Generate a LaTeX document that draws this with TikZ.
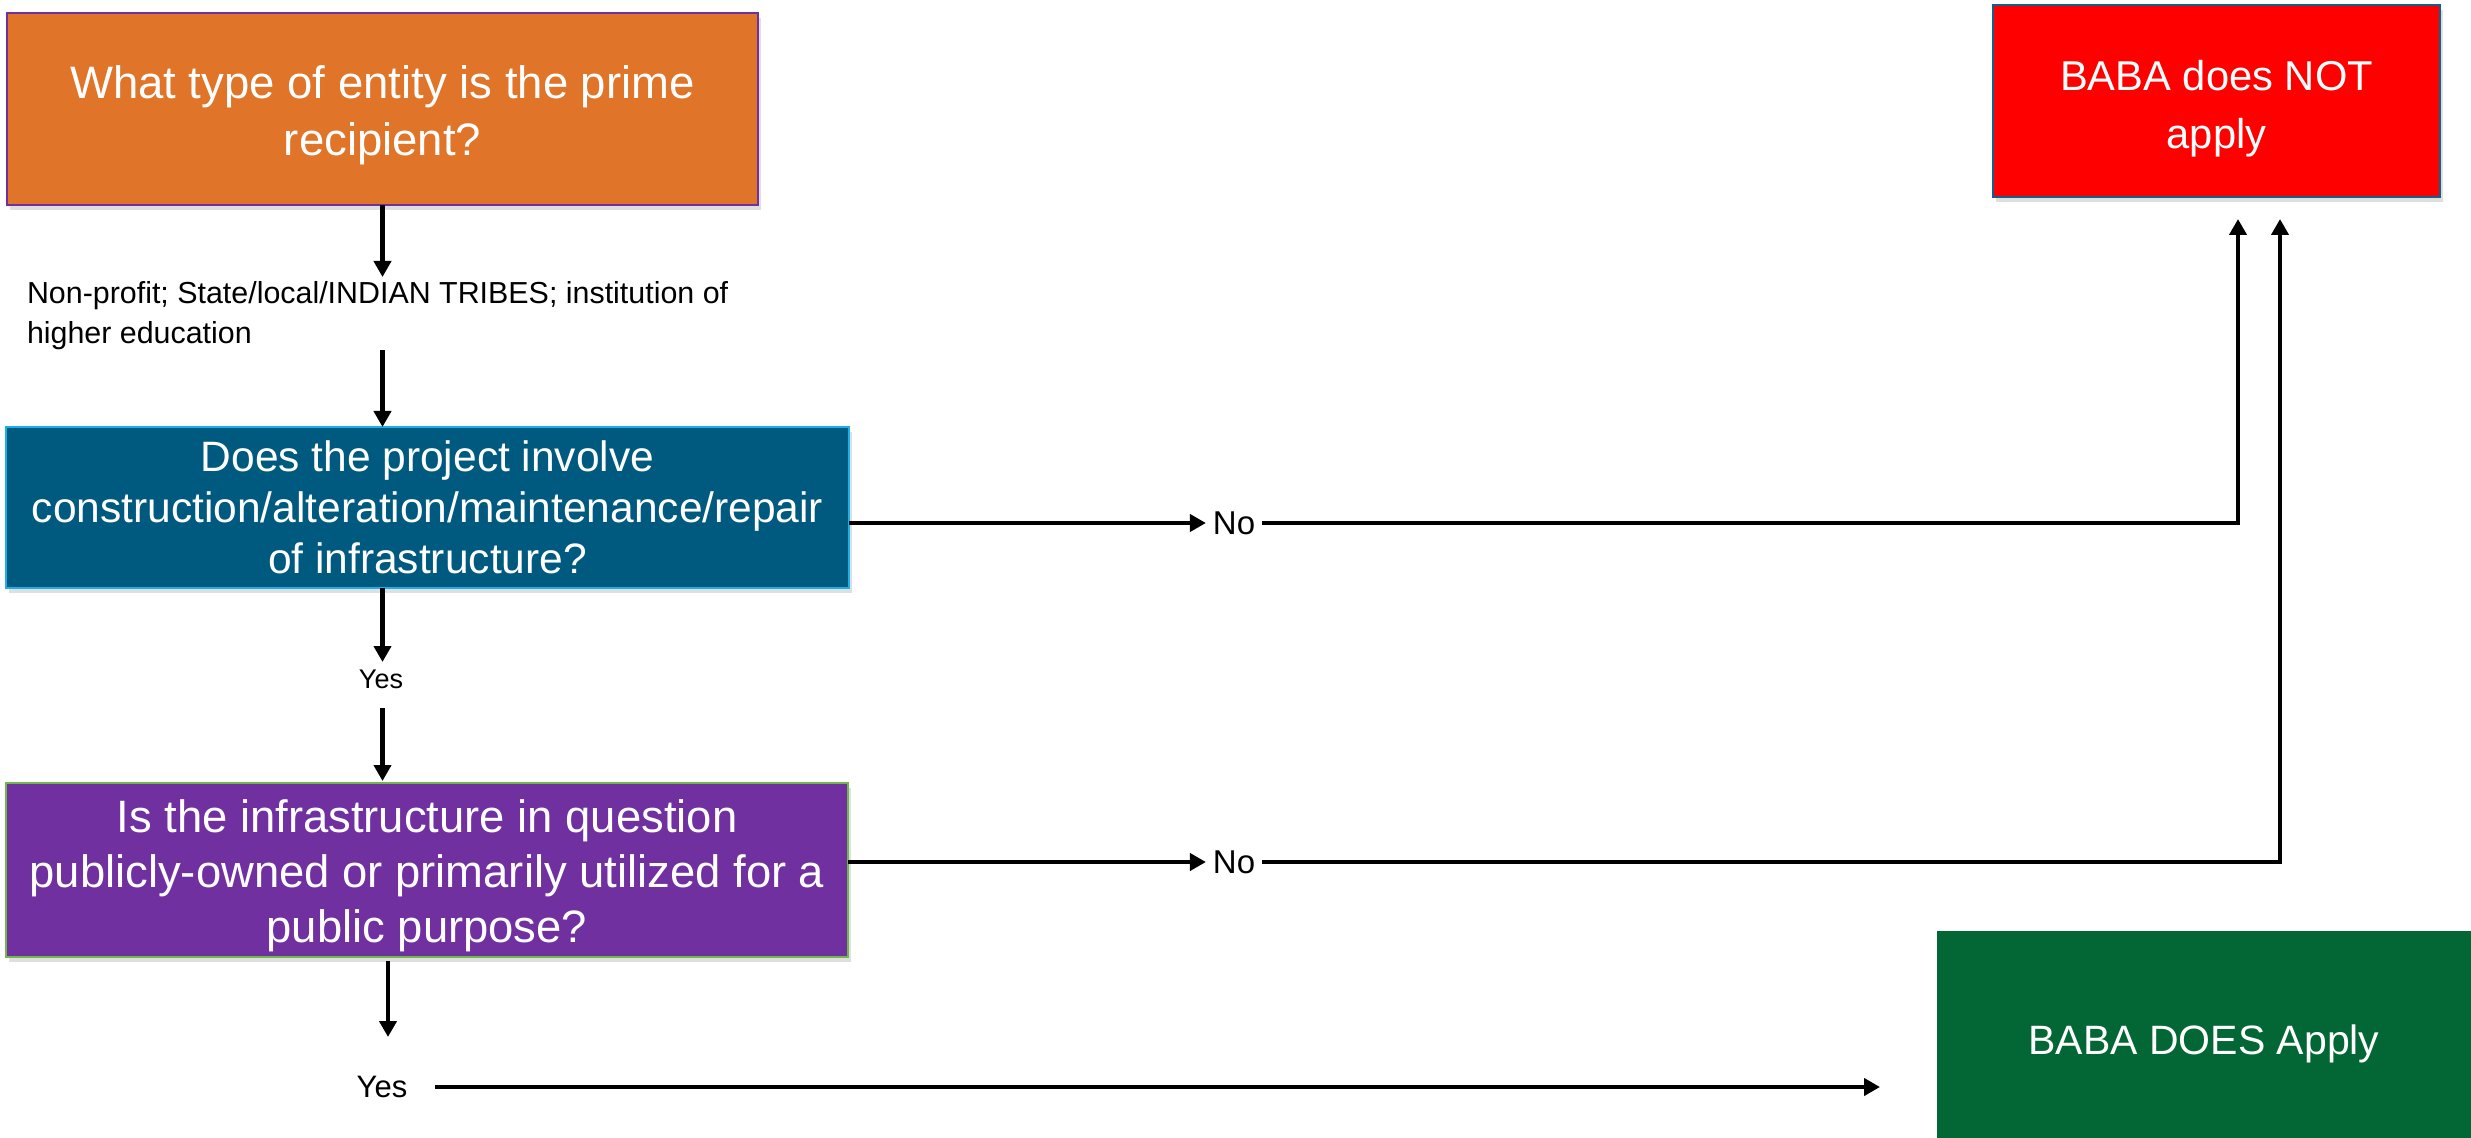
\documentclass[tikz,border=0pt]{standalone}
\usepackage{fontspec}
\setmainfont{Liberation Sans}
\usetikzlibrary{arrows.meta,calc,shadows}
\definecolor{cOrange}{HTML}{E07428}
\definecolor{cOrangeB}{HTML}{7030A0}
\definecolor{cBlue}{HTML}{005A80}
\definecolor{cBlueB}{HTML}{1CB0E8}
\definecolor{cPurple}{HTML}{7030A0}
\definecolor{cPurpleB}{HTML}{70B84A}
\definecolor{cRed}{HTML}{FF0000}
\definecolor{cRedB}{HTML}{12608C}
\definecolor{cGreen}{HTML}{036635}
\begin{document}
\begin{tikzpicture}[x=0.5pt,y=-0.5pt,
  box/.style={rectangle, draw, line width=0.75pt, outer sep=0pt,
    drop shadow={shadow xshift=1.5pt,shadow yshift=-2.5pt,opacity=0.25}},
  boxtext/.style={text=white, align=center, inner sep=0pt},
  arr/.style={line width=2.4pt, -{Triangle[length=8pt,width=8.5pt]}},
  lab/.style={inner sep=0pt, outer sep=0pt, text=black}]
\useasboundingbox (0,0) rectangle (2471,1138);

% boxes
\node[box, fill=cOrange, draw=cOrangeB, minimum width=375.5pt, minimum height=96pt] (q1) at (382.5,109) {};
\node[boxtext, font=\fontsize{22.75}{28.5}\selectfont] (q1t) at ($(q1.center)+(0,6)$)
  {What type of entity is the prime\\recipient?};
\node[box, fill=cBlue, draw=cBlueB, minimum width=421.5pt, minimum height=80.5pt] (q2) at (427.5,507.5) {};
\node[boxtext, font=\fontsize{21.25}{25.5}\selectfont] (q2t) at (q2.center)
  {Does the project involve\\construction/alteration/maintenance/repair\\of infrastructure?};
\node[box, fill=cPurple, draw=cPurpleB, minimum width=421pt, minimum height=87pt] (q3) at (427,870) {};
\node[boxtext, font=\fontsize{22.7}{27.5}\selectfont] (q3t) at ($(q3.center)+(0,6)$)
  {Is the infrastructure in question\\publicly-owned or primarily utilized for a\\public purpose?};
\node[box, fill=cRed, draw=cRedB, minimum width=223.5pt, minimum height=96pt] (notapply) at (2216.5,101) {};
\node[boxtext, font=\fontsize{20.85}{29}\selectfont] (notapplyt) at ($(notapply.center)+(0,8)$)
  {BABA does NOT\\apply};
\node[box, draw=none, fill=cGreen, minimum width=267pt, minimum height=103.5pt] (doesapply) at (2204,1034.5) {};
\node[boxtext, font=\fontsize{20.5}{25}\selectfont] (doesapplyt) at ($(doesapply.center)+(0,9)$)
  {BABA DOES Apply};

% labels
\node[lab, anchor=west, align=left, font=\fontsize{15.2}{20}\selectfont] (ent) at (27,316)
  {Non-profit; State/local/INDIAN TRIBES; institution of\\higher education};
\node[lab, font=\fontsize{13.5}{16}\selectfont] (y1) at (381,679) {Yes};
\node[lab, font=\fontsize{15.5}{18}\selectfont] (y2) at (382,1087) {Yes};
\node[lab, inner xsep=3.5pt, font=\fontsize{16.5}{19}\selectfont] (n1) at (1234,523) {No};
\node[lab, inner xsep=3.5pt, font=\fontsize{16.5}{19}\selectfont] (n2) at (1234,862) {No};

% connectors
\draw[arr] (q1.south) -- ++(0,72);
\draw[arr] ($(q1.south |- q2.north)+(0,-77)$) -- (q1.south |- q2.north);
\draw[arr] (q1.south |- q2.south) -- ++(0,74);
\draw[arr] ($(q1.south |- q3.north)+(0,-75)$) -- ($(q1.south |- q3.north)+(0,-2)$);
\draw[arr] ($(q3.south)+(-39,4)$) -- ++(0,76);
\draw[arr] ($(y2.east)+(28,0)$) -- ($(doesapply.west |- y2.east)+(-57,0)$);
\draw[arr] ($(q2.east)+(0,15.5)$) -- (n1.west);
\draw[arr] (n1.east) -| ($(notapply.south)+(21.5,22)$);
\draw[arr] ($(q3.east)+(0,-8)$) -- (n2.west);
\draw[arr] (n2.east) -| ($(notapply.south)+(63.5,22)$);
\end{tikzpicture}
\end{document}
